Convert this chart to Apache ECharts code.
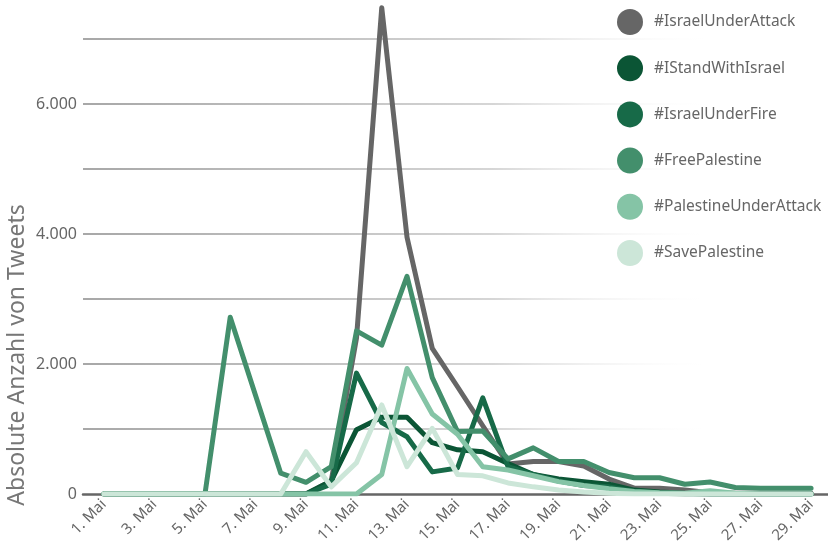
<!DOCTYPE html>
<html>
<head>
<meta charset="utf-8">
<script src="https://cdn.jsdelivr.net/npm/echarts@6/dist/echarts.min.js"></script>
<style>
  html, body { margin: 0; padding: 0; background: #fff; }
  #chart { width: 828px; height: 545px; }
</style>
</head>
<body>
<div id="chart"></div>
<script>
// days of May shown on the x axis
const days = [1, 2, 3, 4, 5, 6, 7, 8, 9, 10, 11, 12, 13, 14, 15, 16, 17, 18, 19, 20, 21, 22, 23, 24, 25, 26, 27, 28, 29]
const tickDays = [1, 3, 5, 7, 9, 11, 13, 15, 17, 19, 21, 23, 25, 27, 29]
const yTicks = [0, 2000, 4000, 6000]

// tweets per day
const israelUnderAttack = [0, 0, 0, 0, 0, 0, 0, 0, 0, 200, 2400, 7480, 3950, 2240, 1650, 1050, 460, 500, 500, 430, 230, 90, 90, 60, 20, 10, 10, 10, 10]
const iStandWithIsrael = [0, 0, 0, 0, 0, 0, 0, 0, 0, 200, 990, 1180, 1180, 790, 680, 650, 470, 300, 230, 190, 150, 60, 30, 10, 0, 0, 0, 0, 0]
const israelUnderFire = [0, 0, 0, 0, 0, 0, 0, 0, 0, 150, 1860, 1100, 880, 340, 400, 1480, 420, 300, 200, 130, 110, 40, 10, 0, 0, 0, 0, 0, 0]
const freePalestine = [0, 0, 0, 0, 0, 2720, 1520, 320, 180, 420, 2510, 2290, 3350, 1790, 960, 970, 540, 710, 500, 500, 330, 250, 250, 150, 185, 100, 90, 90, 90]
const palestineUnderAttack = [0, 0, 0, 0, 0, 0, 0, 0, 0, 0, 0, 300, 1930, 1230, 920, 420, 370, 280, 190, 130, 80, 40, 20, 10, 50, 10, 0, 0, 0]
const savePalestine = [0, 0, 0, 0, 0, 0, 0, 0, 650, 110, 480, 1370, 420, 1010, 300, 280, 170, 110, 60, 30, 10, 0, 0, 0, 0, 0, 0, 0, 0]

const seriesList = [
  { name: '#IsraelUnderAttack', data: israelUnderAttack, color: '#666666' },
  { name: '#IStandWithIsrael', data: iStandWithIsrael, color: '#0b5535' },
  { name: '#IsraelUnderFire', data: israelUnderFire, color: '#176a48' },
  { name: '#FreePalestine', data: freePalestine, color: '#438f6c' },
  { name: '#PalestineUnderAttack', data: palestineUnderAttack, color: '#85c4a6' },
  { name: '#SavePalestine', data: savePalestine, color: '#cce6d8' },
]

const font = 'Noto Sans'

const formatNumber = (v) => String(v).replace(/\B(?=(\d{3})+(?!\d))/g, '.')

const chart = echarts.init(document.getElementById('chart'), null, { renderer: 'canvas' })

const option = {
  animation: false,
  backgroundColor: '#fff',
  textStyle: { fontFamily: font },
  grid: {
    left: 83,
    right: 0,
    top: 6.5,
    bottom: 51,
    containLabel: false,
    outerBoundsMode: 'none',
  },
  legend: {
    orient: 'vertical',
    left: 612,
    top: 4,
    icon: 'circle',
    itemWidth: 38,
    itemHeight: 26,
    itemGap: 20.2,
    data: seriesList.map((s) => s.name),
    textStyle: {
      color: '#666',
      fontSize: 15.5,
      fontFamily: font,
    },
  },
  graphic: [
    {
      type: 'text',
      x: 17,
      y: 355,
      rotation: Math.PI / 2,
      style: {
        text: 'Absolute Anzahl von Tweets',
        fill: '#777',
        font: '23px "Noto Sans"',
        align: 'center',
        verticalAlign: 'middle',
      },
    },
  ],
  xAxis: {
    type: 'value',
    min: 0.17,
    max: 29.67,
    splitLine: { show: false },
    axisTick: { show: false },
    axisLine: {
      lineStyle: { color: '#666', width: 2.5 },
    },
    axisLabel: {
      customValues: tickDays,
      formatter: (v) => v + '. Mai',
      rotate: 45,
      margin: 8,
      color: '#666',
      fontSize: 15,
      fontFamily: font,
    },
  },
  yAxis: {
    type: 'value',
    min: 0,
    max: 7500,
    interval: 1000,
    axisLine: { show: false },
    axisTick: { show: false },
    axisLabel: {
      margin: 6,
      color: '#666',
      fontSize: 16,
      fontFamily: font,
      formatter: (v) => (yTicks.indexOf(v) >= 0 ? formatNumber(v) : ''),
    },
    splitLine: {
      showMinLine: false,
      showMaxLine: false,
      lineStyle: {
        width: 1.5,
        color: {
          type: 'linear',
          x: 0,
          y: 0,
          x2: 1,
          y2: 0,
          colorStops: [
            { offset: 0, color: '#8a8a8a' },
            { offset: 0.55, color: '#c8c8c8' },
            { offset: 0.85, color: 'rgba(255,255,255,0)' },
          ],
        },
      },
    },
  },
  series: seriesList.map((s) => ({
    name: s.name,
    type: 'line',
    symbol: 'none',
    data: s.data.map((v, i) => [days[i], v]),
    itemStyle: { color: s.color },
    lineStyle: {
      color: s.color,
      width: 5,
      cap: 'round',
      join: 'round',
    },
  })),
}

chart.setOption(option)
</script>
</body>
</html>
